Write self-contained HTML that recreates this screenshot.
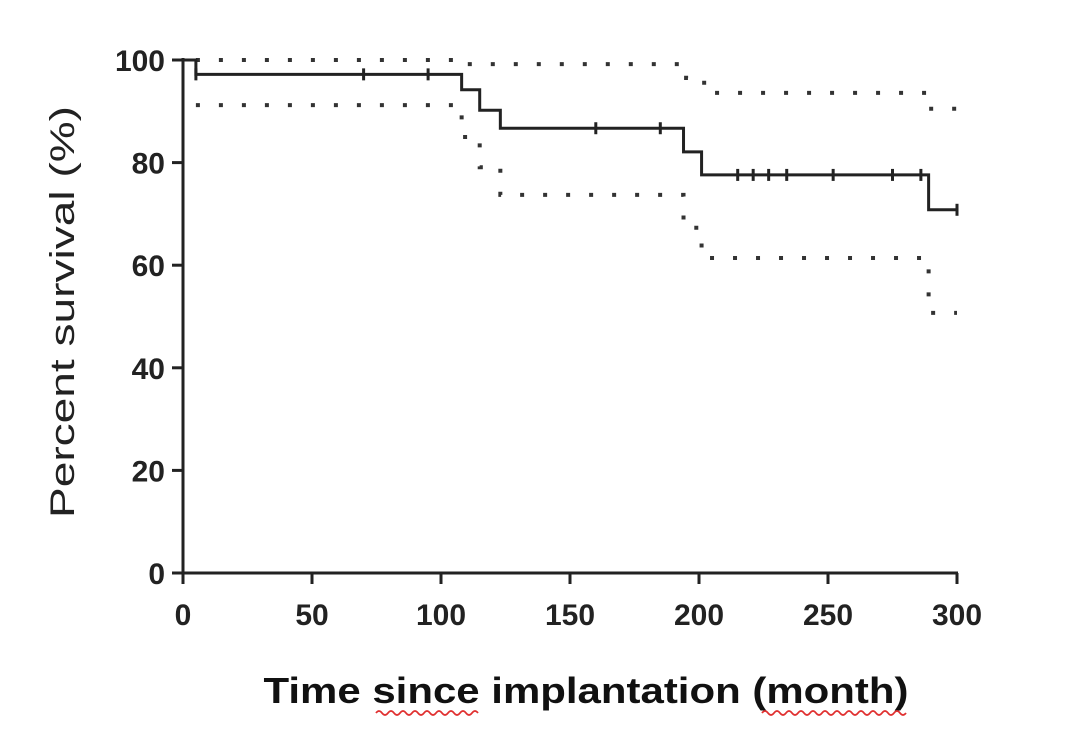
<!DOCTYPE html>
<html><head><meta charset="utf-8"><style>
body{margin:0;background:#fff;width:1080px;height:740px;overflow:hidden}
svg text{font-family:"Liberation Sans",sans-serif}
</style></head><body>
<svg width="1080" height="740" xmlns="http://www.w3.org/2000/svg">
<g id="plot"></g>
<text transform="translate(74,312) rotate(-90)" text-anchor="middle" font-size="34" fill="#222" textLength="412" lengthAdjust="spacingAndGlyphs">Percent survival (%)</text>
<text x="586" y="703" text-anchor="middle" font-size="36" font-weight="bold" fill="#111" textLength="645" lengthAdjust="spacingAndGlyphs">Time since implantation (month)</text>
<path d="M376,713 q3,-4 6,0 t6,0 t6,0 t6,0 t6,0 t6,0 t6,0 t6,0 t6,0 t6,0 t6,0 t6,0 t6,0 t6,0 t6,0 t6,0 t6,0" fill="none" stroke="#e03030" stroke-width="1.8"/>
<path d="M762,713 q3,-4 6,0 t6,0 t6,0 t6,0 t6,0 t6,0 t6,0 t6,0 t6,0 t6,0 t6,0 t6,0 t6,0 t6,0 t6,0 t6,0 t6,0 t6,0 t6,0 t6,0 t6,0 t6,0 t6,0 t6,0" fill="none" stroke="#e03030" stroke-width="1.8"/>
</svg>
<script>
const xTicks=[0,50,100,150,200,250,300];
const yTicks=[0,20,40,60,80,100];
const survT=[0,5,108,115,123,194,201,289,300];
const survV=[100,97.2,94.2,90.2,86.7,82.1,77.6,70.8,70.8];
const upperT=[5,108,195,202,289,300];
const upperV=[100,99.2,96.5,93.6,90.5,90.5];
const lowerT=[5,108,115,123,194,201,289,300];
const lowerV=[91.2,85,79.1,73.7,67.3,61.4,50.7,50.7];
const censorT=[5,70,95,160,185,215,221,227,234,252,275,286,300];

const X=t=>183+t*(957-183)/300;
const Y=v=>573-v*(573-60)/100;
const ns="http://www.w3.org/2000/svg";
const g=document.getElementById('plot');
function mk(tag,attrs){const e=document.createElementNS(ns,tag);for(const k in attrs)e.setAttribute(k,attrs[k]);g.appendChild(e);return e;}
function stepPath(T,V){let d=`M${X(T[0])},${Y(V[0])}`;for(let i=1;i<T.length;i++){d+=` H${X(T[i])} V${Y(V[i])}`;}return d;}
function valAt(t){let v=survV[0];for(let i=0;i<survT.length;i++){if(survT[i]<=t)v=survV[i];}return v;}

const ya=mk('line',{x1:183,y1:58,x2:183,y2:574,stroke:'#222','stroke-width':3});


const xa=mk('line',{x1:182,y1:573,x2:958,y2:573,stroke:'#222','stroke-width':3});


yTicks.forEach(v=>{
 const l=mk('line',{x1:172,y1:Y(v),x2:183,y2:Y(v),stroke:'#222','stroke-width':3});
 
 
 const t=mk('text',{x:165,y:Y(v)+11,'text-anchor':'end','font-size':30,'font-weight':'bold',fill:'#222'});
 t.textContent=v;
 
 
});
xTicks.forEach(v=>{
 const l=mk('line',{x1:X(v),y1:573,x2:X(v),y2:584,stroke:'#222','stroke-width':3});
 
 
 const t=mk('text',{x:X(v),y:625,'text-anchor':'middle','font-size':30,'font-weight':'bold',fill:'#222'});
 t.textContent=v;
 
 
});
const up=mk('path',{d:stepPath(upperT,upperV),fill:'none',stroke:'#333','stroke-width':4,'stroke-dasharray':'4 19'});


const lo=mk('path',{d:stepPath(lowerT,lowerV),fill:'none',stroke:'#333','stroke-width':4,'stroke-dasharray':'4 19'});


const s=mk('path',{d:stepPath(survT,survV),fill:'none',stroke:'#222','stroke-width':3});


censorT.forEach(t=>{
 const c=mk('line',{x1:X(t),y1:Y(valAt(t))-6,x2:X(t),y2:Y(valAt(t))+6,stroke:'#222','stroke-width':3});
 
 
});
</script>
</body></html>
